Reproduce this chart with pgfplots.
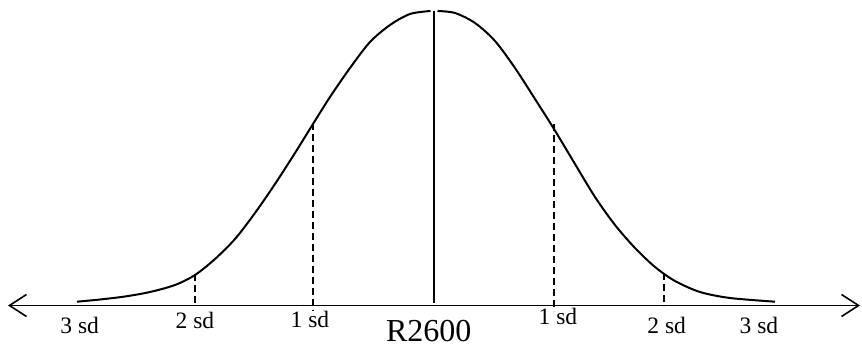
\documentclass[border=0pt]{standalone}
\usepackage{fontspec}
\setmainfont{Liberation Serif}
\usepackage{pgfplots}
\pgfplotsset{compat=1.18}
\usetikzlibrary{arrows.meta}
\begin{document}
\begin{tikzpicture}
\begin{axis}[name=ax,width=862pt,height=347pt,scale only axis,
  xmin=0,xmax=862,ymin=0,ymax=347,hide axis,clip=false]
% base line with arrows
\addplot[black,line width=1.6pt,{Straight Barb[length=17pt,width=22pt,line width=1.6pt]}-{Straight Barb[length=17pt,width=22pt,line width=1.6pt]}]
  coordinates {(8,41.5) (860,41.5)};
% curve, left half
\addplot[black,line width=2pt,smooth] coordinates {
(77,45.3) (100,47.5) (125,50.5) (150,55) (175,62) (195,72) (215,88) (235,108)
(255,134) (275,163) (295,194) (313,223) (330,250) (350,279) (370,305)
(390,322) (410,333) (430.5,336)};
% curve, right half
\addplot[black,line width=2pt,smooth] coordinates {
(437.5,336) (455,334) (475,324) (495,306) (515,279) (535,248) (554,218)
(575,183) (595,150) (615,122) (635,99) (655,80) (675,66) (700,55) (730,49) (775,45.3)};
% centre line
\addplot[black,line width=1.6pt] coordinates {(434,336) (434,44)};
% sd lines
\addplot[black,line width=1.6pt,dash pattern=on 7pt off 4pt] coordinates {(195,73) (195,44)};
\addplot[black,line width=1.6pt,dash pattern=on 7pt off 4pt] coordinates {(313,224) (313,36)};
\addplot[black,line width=1.6pt,dash pattern=on 7pt off 4pt] coordinates {(554,223) (554,36)};
\addplot[black,line width=1.6pt,dash pattern=on 7pt off 4pt] coordinates {(664,74) (664,41)};
% labels
\tikzset{lab/.style={anchor=base,inner sep=0pt,font=\fontsize{23.5}{24}\selectfont}}
\node[lab] at (axis cs:79.7,13.7) {3 sd};
\node[lab] at (axis cs:195,18.7) {2 sd};
\node[lab] at (axis cs:310,19.7) {1 sd};
\node[anchor=base,inner sep=0pt,font=\fontsize{32}{32}\selectfont] at (axis cs:428.8,5) {R2600};
\node[lab] at (axis cs:558,22) {1 sd};
\node[lab] at (axis cs:666.7,13.7) {2 sd};
\node[lab] at (axis cs:759,13.7) {3 sd};
\end{axis}
\pgfresetboundingbox
\path (ax.south west) rectangle (ax.north east);
\end{tikzpicture}
\end{document}
